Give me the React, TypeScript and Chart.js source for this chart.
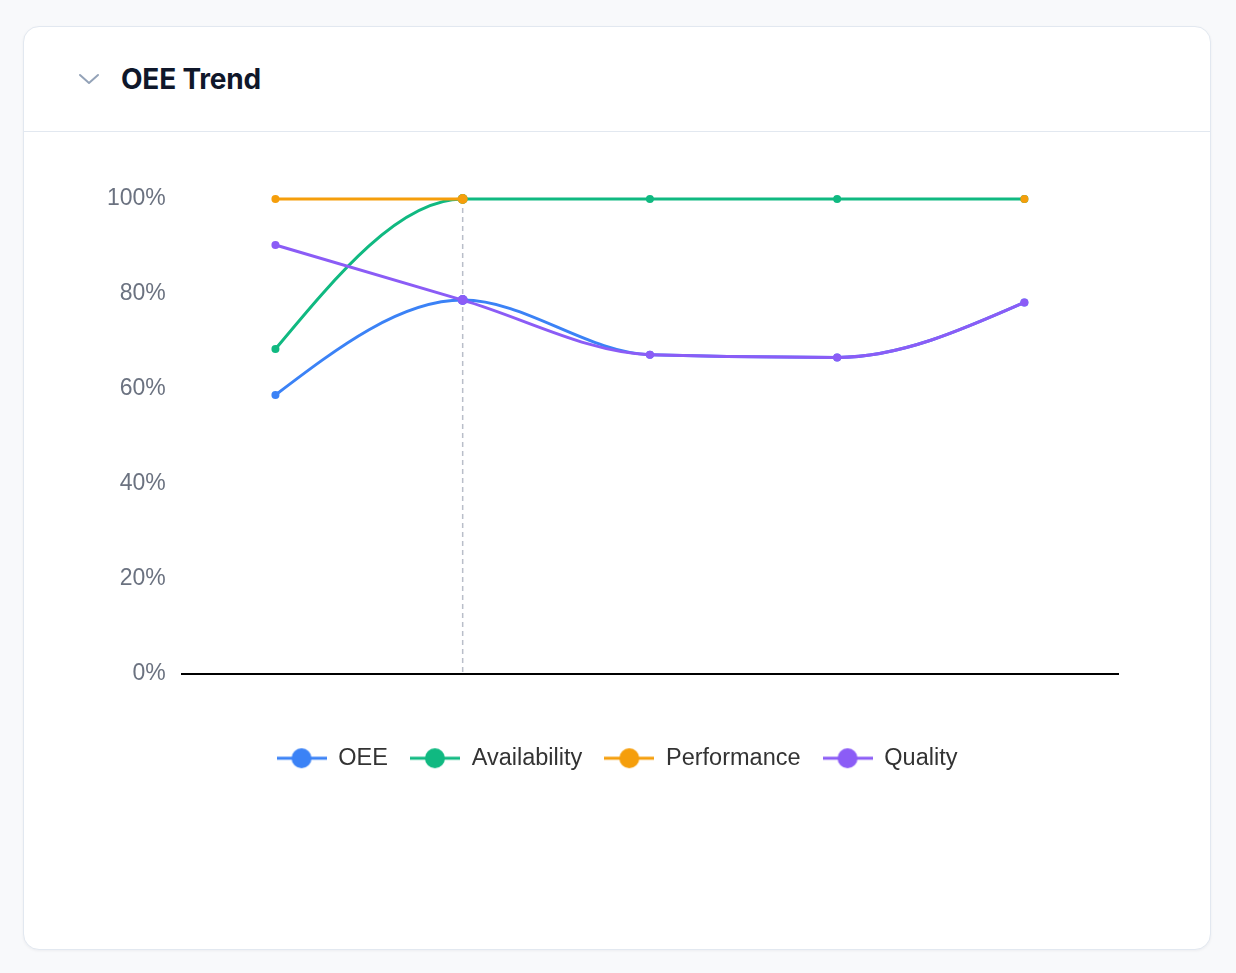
import React, { useEffect, useRef } from 'react';
import { Chart, registerables } from 'chart.js';

Chart.register(...registerables);

// Trend data (percent)
const PERIODS = ['P1', 'P2', 'P3', 'P4', 'P5'];
const OEE = [58.7, 78.7, 67.2, 66.6, 78.2];
const AVAILABILITY = [68.4, 100, 100, 100, 100];
const PERFORMANCE: (number | null)[] = [100, 100, null, null, 100];
const QUALITY = [90.3, 78.7, 67.2, 66.6, 78.2];
const Y_MIN = 0;
const Y_MAX = 100;
const Y_STEP = 20;
const ACTIVE_INDEX = 1;

const COLORS = {
  oee: '#3b82f6',
  availability: '#10b981',
  performance: '#f59e0b',
  quality: '#8b5cf6',
};

const CHART_FONT = '"Liberation Sans", Arial, Helvetica, sans-serif';

// Legend marker: a short line with a filled dot in the middle
function legendIcon(color: string): HTMLCanvasElement {
  const c = document.createElement('canvas');
  c.width = 50;
  c.height = 22;
  const g = c.getContext('2d')!;
  g.strokeStyle = color;
  g.lineWidth = 3;
  g.beginPath();
  g.moveTo(0, 11);
  g.lineTo(50, 11);
  g.stroke();
  g.fillStyle = color;
  g.beginPath();
  g.arc(25, 11, 10, 0, Math.PI * 2);
  g.fill();
  return c;
}

// Vertical dashed guide at the highlighted period
const guideLine = {
  id: 'guideLine',
  beforeDatasetsDraw(chart: any) {
    const { ctx, chartArea, scales } = chart;
    const x = scales.x.getPixelForValue(ACTIVE_INDEX);
    ctx.save();
    ctx.strokeStyle = '#b9bec9';
    ctx.lineWidth = 1.5;
    ctx.setLineDash([5, 4]);
    ctx.beginPath();
    ctx.moveTo(x, chartArea.top);
    ctx.lineTo(x, chartArea.bottom);
    ctx.stroke();
    ctx.restore();
  },
};

// Keep the legend centred on the whole canvas rather than the padded box
const centerLegend = {
  id: 'centerLegend',
  afterLayout(chart: any) {
    const lg = chart.legend;
    if (!lg) return;
    const shift = chart.width / 2 - (lg.left + lg.right) / 2;
    lg.left += shift;
    lg.right += shift;
  },
};

// Monotone-X curve (one-sided end tangents) applied to the bezier control points
const sgn = (v: number) => (v < 0 ? -1 : 1);

function applyMonotone(run: any[]) {
  const n = run.length;
  if (n < 2) return;
  if (n === 2) {
    const [a, b] = run;
    const dx = (b.x - a.x) / 3;
    const dy = (b.y - a.y) / 3;
    a.cp2x = a.x + dx;
    a.cp2y = a.y + dy;
    b.cp1x = b.x - dx;
    b.cp1y = b.y - dy;
    return;
  }
  const t: number[] = new Array(n).fill(0);
  for (let i = 1; i < n - 1; i++) {
    const h0 = run[i].x - run[i - 1].x;
    const h1 = run[i + 1].x - run[i].x;
    const s0 = (run[i].y - run[i - 1].y) / h0;
    const s1 = (run[i + 1].y - run[i].y) / h1;
    const p = (s0 * h1 + s1 * h0) / (h0 + h1);
    t[i] = (sgn(s0) + sgn(s1)) * Math.min(Math.abs(s0), Math.abs(s1), 0.5 * Math.abs(p)) || 0;
  }
  t[0] = (3 * (run[1].y - run[0].y) / (run[1].x - run[0].x) - t[1]) / 2;
  t[n - 1] = (3 * (run[n - 1].y - run[n - 2].y) / (run[n - 1].x - run[n - 2].x) - t[n - 2]) / 2;
  for (let i = 0; i < n; i++) {
    const pt = run[i];
    if (i > 0) {
      const d = (pt.x - run[i - 1].x) / 3;
      pt.cp1x = pt.x - d;
      pt.cp1y = pt.y - d * t[i];
    }
    if (i < n - 1) {
      const d = (run[i + 1].x - pt.x) / 3;
      pt.cp2x = pt.x + d;
      pt.cp2y = pt.y + d * t[i];
    }
  }
}

const monotoneCurve = {
  id: 'monotoneCurve',
  beforeDatasetDraw(chart: any, args: any) {
    const meta = args.meta;
    if (!meta.dataset || !meta.dataset.updateControlPoints) return;
    meta.dataset.updateControlPoints(chart.chartArea, meta.iScale.axis);
    const runs: any[][] = [];
    let run: any[] = [];
    meta.data.forEach((p: any) => {
      if (p.skip) {
        if (run.length) runs.push(run);
        run = [];
      } else {
        run.push(p);
      }
    });
    if (run.length) runs.push(run);
    runs.forEach(applyMonotone);
  },
};

function series(label: string, data: (number | null)[], color: string, order: number) {
  return {
    label,
    data,
    order,
    borderColor: color,
    backgroundColor: color,
    borderWidth: 3,
    pointBackgroundColor: color,
    pointBorderWidth: 0,
    pointRadius: (c: any) => (c.dataIndex === ACTIVE_INDEX ? 5 : 4),
    pointStyle: 'circle',
    cubicInterpolationMode: 'monotone' as const,
    spanGaps: false,
    clip: false as any,
  };
}

function OeeChart() {
  const ref = useRef<HTMLCanvasElement>(null);

  useEffect(() => {
    if (!ref.current) return;
    const datasets = [
      series('OEE', OEE, COLORS.oee, 4),
      series('Availability', AVAILABILITY, COLORS.availability, 3),
      series('Performance', PERFORMANCE, COLORS.performance, 2),
      series('Quality', QUALITY, COLORS.quality, 1),
    ];

    const chart = new Chart(ref.current, {
      type: 'line',
      data: { labels: PERIODS, datasets: datasets as any },
      plugins: [guideLine, monotoneCurve, centerLegend],
      options: {
        animation: false,
        responsive: true,
        maintainAspectRatio: false,
        events: [],
        layout: { padding: { top: 67, left: 67, right: 92, bottom: 52 } },
        scales: {
          x: {
            offset: true,
            grid: { display: false, drawTicks: false },
            border: { display: true, color: '#000000', width: 2 },
            ticks: { display: false },
            afterFit: (s: any) => {
              s.height = 51;
            },
          },
          y: {
            min: Y_MIN,
            max: Y_MAX,
            grid: { display: false, drawTicks: false },
            border: { display: false },
            ticks: {
              stepSize: Y_STEP,
              padding: 16,
              color: '#6b7280',
              font: { family: CHART_FONT, size: 23 },
              callback: (v: any) => `${v}%`,
            },
          },
        },
        plugins: {
          tooltip: { enabled: false },
          legend: {
            position: 'bottom',
            labels: {
              usePointStyle: true,
              pointStyleWidth: 50,
              padding: 22,
              color: '#333333',
              font: { family: CHART_FONT, size: 23.5 },
              generateLabels: (ch: any) =>
                ch.data.datasets.map((d: any, i: number) => ({
                  text: d.label,
                  datasetIndex: i,
                  pointStyle: legendIcon(d.borderColor),
                  fillStyle: d.borderColor,
                  strokeStyle: d.borderColor,
                  lineWidth: 0,
                  hidden: false,
                  fontColor: '#333333',
                })),
            },
          },
        },
      },
    });
    return () => chart.destroy();
  }, []);

  return <canvas ref={ref} />;
}

export default function App() {
  useEffect(() => {
    document.body.style.margin = '0';
    document.body.style.background = '#f8f9fb';
  }, []);

  return (
    <div style={{ padding: '26px 25px 23px 23px', background: '#f8f9fb', minHeight: 973, boxSizing: 'border-box' }}>
      <div
        style={{
          width: 1188,
          height: 924,
          boxSizing: 'border-box',
          background: '#ffffff',
          border: '1px solid #e2e8f0',
          borderRadius: 16,
          boxShadow: '0 1px 3px rgba(15, 23, 42, 0.05)',
          overflow: 'hidden',
          position: 'relative',
        }}
      >
        <div
          style={{
            height: 105,
            borderBottom: '1px solid #e2e8f0',
            display: 'flex',
            alignItems: 'center',
            paddingLeft: 54,
            boxSizing: 'border-box',
          }}
        >
          <svg width="22" height="22" viewBox="0 0 22 22" style={{ marginRight: 21 }}>
            <path d="M2 7 L11 15 L20 7" fill="none" stroke="#94a3b8" strokeWidth="2" strokeLinecap="round" strokeLinejoin="round" />
          </svg>
          <span
            style={{
              fontFamily: 'Inter, "Noto Sans", sans-serif',
              fontWeight: 700,
              fontSize: 28,
              color: '#0f172a',
              letterSpacing: '-0.2px',
            }}
          >
            OEE Trend
          </span>
        </div>
        <div style={{ position: 'relative', width: 1186, height: 700 }}>
          <OeeChart />
        </div>
      </div>
    </div>
  );
}
